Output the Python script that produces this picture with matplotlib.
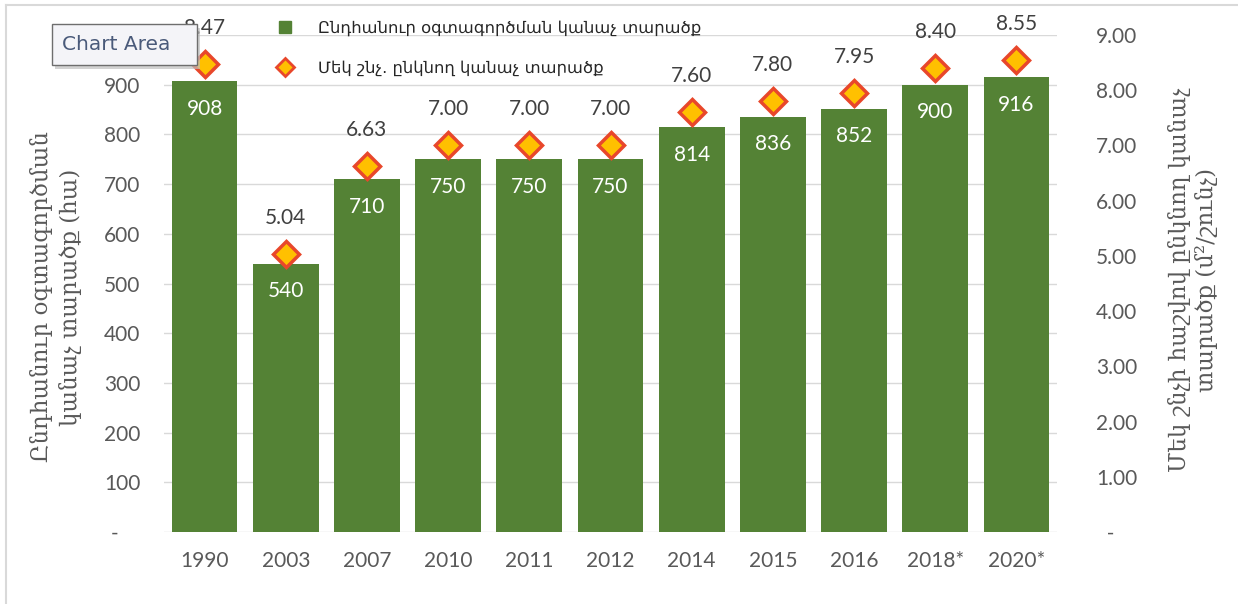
import numpy as np
import matplotlib.pyplot as plt
from matplotlib.lines import Line2D
from matplotlib.patches import Rectangle

years = ["1990", "2003", "2007", "2010", "2011", "2012", "2014", "2015", "2016", "2018*", "2020*"]
total_area = [908, 540, 710, 750, 750, 750, 814, 836, 852, 900, 916]
per_capita = [8.47, 5.04, 6.63, 7.00, 7.00, 7.00, 7.60, 7.80, 7.95, 8.40, 8.55]

bar_label = "Ընդհանուր օգտագործման կանաչ տարածք"
dot_label = "Մեկ շնչ. ընկնող կանաչ տարածք"
left_title = "Ընդհանուր օգտագործման\nկանաչ տարածք (հա)"
right_title = "Մեկ շնչի հաշվով ընկնող կանաչ\nտարածք (մ²/շունչ)"

plt.rcParams['font.family'] = ['Lato', 'DejaVu Sans']

green = "#548235"
grey_txt = "#595959"
W, H = 1238, 604

fig = plt.figure(figsize=(W / 100, H / 100), dpi=100)
ax = fig.add_axes([164 / W, 1 - 532 / H, (1057 - 164) / W, (532 - 35) / H])
ax2 = ax.twinx()

ind = np.arange(len(years))
ax.bar(ind, total_area, 0.81, color=green, zorder=2)
ax.set_xlim(-0.5, len(years) - 0.5)
ax.set_ylim(0, 1000)
ax.set_yticks(np.arange(0, 1001, 100))
# the 1000 label is hidden under the "Chart Area" tooltip in the original
ax.set_yticklabels(["-    "] + [str(v) for v in range(100, 1000, 100)] + [""])
ax.yaxis.grid(True, color="#D9D9D9", linewidth=1, zorder=0)
ax.set_axisbelow(True)
ax.set_xticks(ind)
ax.set_xticklabels(years)
ax.tick_params(axis="x", length=0, pad=14, labelsize=15, colors=grey_txt)
ax.tick_params(axis="y", length=0, pad=17, labelsize=15, colors=grey_txt)

for i, v in enumerate(total_area):
    ax.annotate(str(v), (i, v), xytext=(0, -20), textcoords="offset points",
                ha="center", va="center", color="white", fontsize=15)

ax2.plot(ind, per_capita, linestyle="none", marker="D", markersize=13,
         markerfacecolor="#FFC000", markeredgecolor="#E8472B", markeredgewidth=2.5,
         zorder=3)
ax2.set_ylim(0, 9)
ax2.set_yticks(np.arange(0, 10, 1))
ax2.set_yticklabels(["  -"] + ["%.2f" % v for v in range(1, 10)])
ax2.tick_params(axis="y", length=0, pad=28, labelsize=15, colors=grey_txt)

for i, v in enumerate(per_capita):
    ax2.annotate("%.2f" % v, (i, v), xytext=(0, 26), textcoords="offset points",
                 ha="center", va="center", color="#404040", fontsize=15)

for a in (ax, ax2):
    for s in a.spines.values():
        s.set_visible(False)

fig.text(56 / W, 1 - 297 / H, left_title, rotation=90, ha="center", va="center",
         fontsize=16.5, color=grey_txt, family="DejaVu Serif", linespacing=1.3)
fig.text(1193 / W, 1 - 280 / H, right_title, rotation=90, ha="center", va="center",
         fontsize=16.5, color=grey_txt, family="DejaVu Serif", linespacing=1.2)

handles = [
    Line2D([], [], linestyle="none", marker="s", markersize=9, color=green),
    Line2D([], [], linestyle="none", marker="D", markersize=9,
           markerfacecolor="#FFC000", markeredgecolor="#E8472B", markeredgewidth=2),
]
leg = fig.legend(handles, [bar_label, dot_label], loc="upper left",
                 bbox_to_anchor=(262 / W, 1 - 14 / H), frameon=False,
                 prop={"family": "DejaVu Sans", "size": 11.8}, labelspacing=1.45,
                 handletextpad=1.0, borderaxespad=0)
for t in leg.get_texts():
    t.set_color("#262626")

# "Chart Area" hover tooltip
fig.patches.append(Rectangle((55 / W, 1 - 69 / H), 145 / W, 41 / H,
                             transform=fig.transFigure, facecolor="#BFBFBF",
                             edgecolor="none", zorder=5, alpha=0.7))
fig.patches.append(Rectangle((52 / W, 1 - 65 / H), 145 / W, 41 / H,
                             transform=fig.transFigure, facecolor="#F4F4F8",
                             edgecolor="#6E6E6E", linewidth=1, zorder=6))
fig.text(62 / W, 1 - 44 / H, "Chart Area", ha="left", va="center", fontsize=14.5,
         color="#4A5A7A", family="DejaVu Sans", zorder=7)

# outer chart border (left and top edges visible)
fig.add_artist(Line2D([6 / W, 6 / W], [0, 1 - 5 / H], transform=fig.transFigure,
                      color="#D9D9D9", linewidth=1.5))
fig.add_artist(Line2D([6 / W, 1], [1 - 5 / H, 1 - 5 / H], transform=fig.transFigure,
                      color="#D9D9D9", linewidth=1.5))

plt.savefig("out.png", dpi=100)
plt.close()
